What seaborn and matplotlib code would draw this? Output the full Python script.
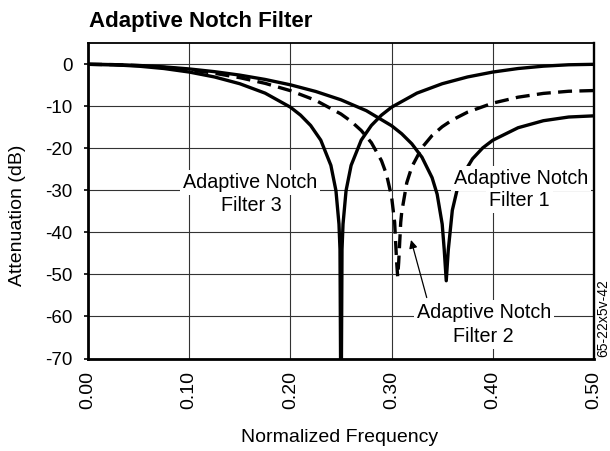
import matplotlib
matplotlib.use("Agg")
import matplotlib.pyplot as plt
import seaborn as sns

# Attenuation (dB) versus normalized frequency for the three notch filters
freq_f1 = [0, 0.025, 0.05, 0.075, 0.1, 0.125, 0.15, 0.175, 0.2, 0.225, 0.25, 0.275,
           0.3, 0.31, 0.32, 0.33, 0.34, 0.345, 0.35, 0.352, 0.354, 0.356, 0.36, 0.365,
           0.37, 0.38, 0.39, 0.4, 0.425, 0.45, 0.475, 0.5]
att_f1 = [0, -0.07, -0.27, -0.61, -1.10, -1.75, -2.57, -3.60, -4.88, -6.46, -8.45, -11.03,
          -14.61, -16.53, -18.92, -22.11, -26.97, -30.90, -38.04, -44.10, -51.5, -44.20, -34.73, -29.58,
          -26.44, -22.47, -19.90, -18.06, -15.09, -13.42, -12.54, -12.26]

freq_f2 = [0, 0.025, 0.05, 0.075, 0.1, 0.125, 0.15, 0.175, 0.2, 0.225, 0.25, 0.26,
           0.27, 0.28, 0.29, 0.295, 0.3, 0.303, 0.305, 0.306, 0.307, 0.309, 0.31, 0.315,
           0.32, 0.33, 0.34, 0.35, 0.36, 0.375, 0.4, 0.425, 0.45, 0.475, 0.5]
att_f2 = [0, -0.08, -0.32, -0.73, -1.31, -2.13, -3.18, -4.53, -6.27, -8.57, -11.83, -13.57,
          -15.75, -18.64, -22.93, -26.23, -31.54, -37.59, -47.14, -50.5, -47.15, -37.64, -35.16, -28.17,
          -24.39, -19.83, -16.94, -14.85, -13.24, -11.39, -9.23, -7.82, -6.92, -6.41, -6.24]

freq_f3 = [0, 0.025, 0.05, 0.075, 0.1, 0.125, 0.15, 0.175, 0.2, 0.21, 0.22, 0.23,
           0.24, 0.245, 0.248, 0.249, 0.25, 0.251, 0.252, 0.255, 0.26, 0.27, 0.28, 0.29,
           0.3, 0.325, 0.35, 0.375, 0.4, 0.425, 0.45, 0.475, 0.5]
att_f3 = [0, -0.11, -0.44, -1.00, -1.84, -3.01, -4.62, -6.86, -10.20, -12.09, -14.55, -18.04,
          -24.04, -30.06, -38.02, -44.04, -90.0, -44.04, -38.02, -30.06, -24.04, -18.04, -14.55, -12.09,
          -10.20, -6.86, -4.62, -3.01, -1.84, -1.00, -0.44, -0.11, 0]

xtick_values = [0.0, 0.1, 0.2, 0.3, 0.4, 0.5]
xtick_labels = ["0.00", "0.10", "0.20", "0.30", "0.40", "0.50"]
ytick_values = [0, -10, -20, -30, -40, -50, -60, -70]
ytick_labels = ["0", "-10", "-20", "-30", "-40", "-50", "-60", "-70"]

sns.set_theme(style="white")
plt.rcParams["font.family"] = ["Liberation Sans", "DejaVu Sans"]
plt.rcParams["axes.unicode_minus"] = False

W, H = 610, 451
fig = plt.figure(figsize=(W / 100, H / 100), dpi=100)
ax = fig.add_axes([88 / W, 1 - 358.5 / H, 506 / W, (358.5 - 43.3) / H])

curve_lw = 2.4
sns.lineplot(x=freq_f1, y=att_f1, ax=ax, color="black", linewidth=curve_lw,
             estimator=None, sort=False)
sns.lineplot(x=freq_f2, y=att_f2, ax=ax, color="black", linewidth=curve_lw,
             estimator=None, sort=False)
ax.lines[-1].set_linestyle((0, (4.2, 2.2)))
sns.lineplot(x=freq_f3, y=att_f3, ax=ax, color="black", linewidth=curve_lw,
             estimator=None, sort=False)

ax.set_xlim(0, 0.5)
ax.set_ylim(-70, 5)
ax.set_xticks(xtick_values, xtick_labels, rotation=90, fontsize=14)
ax.set_yticks(ytick_values, ytick_labels, fontsize=13.5)
ax.grid(True, color="#333333", linewidth=0.8)
ax.set_axisbelow(True)
ax.tick_params(axis="x", length=0, pad=9, colors="black")
ax.tick_params(axis="y", length=3, width=1.2, pad=8, direction="out",
               left=True, colors="black")
ax.set_xlabel("")
ax.set_ylabel("")
for side, lw in (("left", 2.0), ("bottom", 2.0), ("right", 1.7), ("top", 1.3)):
    ax.spines[side].set_visible(True)
    ax.spines[side].set_color("black")
    ax.spines[side].set_linewidth(lw)

# Titles and axis labels
fig.text(89 / W, 1 - 26.7 / H, "Adaptive Notch Filter", fontsize=16,
         fontweight="bold", ha="left", va="baseline", color="black")
fig.text(18 / W, 1 - 215 / H, "Attenuation (dB)", fontsize=14, rotation=90,
         ha="center", va="center", color="black")
fig.text(340 / W, 1 - 442 / H, "Normalized Frequency", fontsize=14,
         ha="center", va="baseline", color="black")
fig.text(603 / W, 1 - 357 / H, "65-22x5v-42", fontsize=10, rotation=90,
         ha="center", va="bottom", color="black")

# Curve callouts
box = dict(boxstyle="square,pad=0.15", facecolor="white", edgecolor="none")
callouts = [
    ("Adaptive Notch", 0.160, -29.4), ("Filter 3", 0.161, -35.0),
    ("Adaptive Notch", 0.4279, -28.4), ("Filter 1", 0.4264, -33.7),
    ("Adaptive Notch", 0.391, -60.4), ("Filter 2", 0.391, -66.1),
]
for label, x, y in callouts:
    ax.text(x, y, label, fontsize=14.2, ha="center", va="baseline",
            color="black", bbox=box, zorder=4)

ax.annotate("", xy=(0.3192, -41.8), xytext=(0.3347, -55.5),
            arrowprops=dict(arrowstyle="-|>", color="black", lw=0.9,
                            mutation_scale=12, shrinkA=0, shrinkB=0),
            zorder=4)

fig.savefig("out.png", dpi=100)
